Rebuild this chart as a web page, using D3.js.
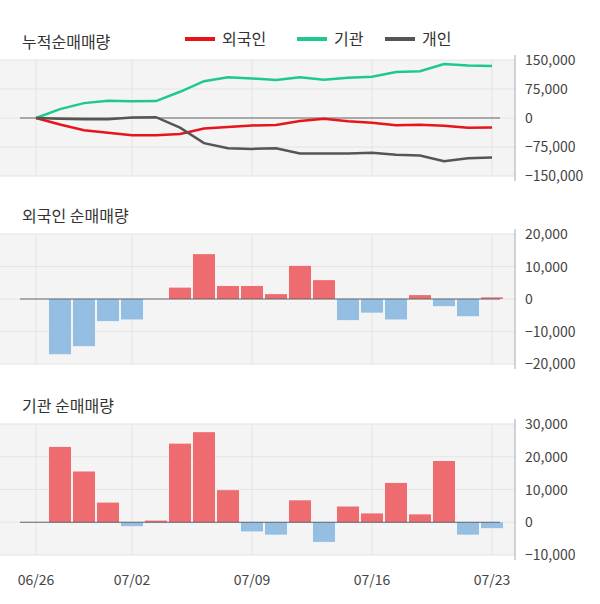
<!DOCTYPE html>
<html><head><meta charset="utf-8">
<script src="https://cdn.jsdelivr.net/npm/d3@7"></script>
<style>body{margin:0;background:#fff;font-family:"Noto Sans CJK KR","Noto Sans",sans-serif}</style>
</head><body><svg id="c" width="600" height="604"></svg>
<script>
const dates = ['06/26','06/27','06/28','06/29','07/02','07/03','07/04','07/05','07/06','07/09','07/10','07/11','07/12','07/13','07/16','07/17','07/18','07/19','07/20','07/23'];
const tickDates = ['06/26','07/02','07/09','07/16','07/23'];
// daily net buying (index 0 has no bar)
const foreign = [0,-17000,-14500,-6800,-6300,0,3500,13800,4000,4000,1500,10200,5800,-6500,-4200,-6300,1200,-2200,-5300,500];
const inst = [0,23000,15500,6000,-1200,500,24000,27500,9800,-2800,-3800,6700,-6000,4800,2700,12000,2400,18700,-3800,-1800];
const indiv = [0,-2000,-3000,-3000,1000,2000,-25000,-65000,-78000,-80000,-78000,-92000,-92000,-92000,-90000,-95000,-97000,-112000,-104000,-102000];
const foreignCum = Array.from(d3.cumsum(foreign));
const instCum = Array.from(d3.cumsum(inst));

const svg = d3.select('#c');
const x = d3.scalePoint().domain(dates).range([36, 492]);
const left = 0, right = 515, bw = 22;

function panel(top, bottom, domain, ticks, title) {
  const y = d3.scaleLinear().domain(domain).range([bottom, top]);
  svg.append('rect').attr('x', left).attr('y', top).attr('width', right - left).attr('height', bottom - top).attr('fill', '#f4f4f4');
  svg.append('g').selectAll('line').data(tickDates).join('line')
    .attr('x1', d => x(d)).attr('x2', d => x(d)).attr('y1', top).attr('y2', bottom).attr('stroke', '#e4e4e4');
  svg.append('g').selectAll('line').data(ticks).join('line')
    .attr('x1', left).attr('x2', right).attr('y1', d => y(d)).attr('y2', d => y(d)).attr('stroke', '#e4e4e4');
  svg.append('line').attr('x1', right).attr('x2', right).attr('y1', top - 5).attr('y2', bottom + 5).attr('stroke', '#aaa');
  svg.append('g').selectAll('text').data(ticks).join('text')
    .attr('x', 525).attr('y', d => y(d) + 5).attr('font-size', 14).attr('fill', '#444')
    .text(d => d3.format(',')(d));
  svg.append('text').attr('x', 22).attr('y', top - 12).attr('font-size', 16).attr('fill', '#333').text(title);
  return y;
}

// panel 1
const y1 = panel(60, 176, [-150000, 150000], [150000, 75000, 0, -75000, -150000], '누적순매매량');
const line = d3.line().x((d, i) => x(dates[i])).y(d => y1(d));
svg.append('line').attr('x1', 20).attr('x2', 500).attr('y1', y1(0)).attr('y2', y1(0)).attr('stroke', '#666');
[[foreignCum, '#e8141c'], [instCum, '#1ec98b'], [indiv, '#555']].forEach(([d, c]) =>
  svg.append('path').datum(d).attr('d', line).attr('fill', 'none').attr('stroke', c).attr('stroke-width', 2.5));
const legend = [['외국인', '#e8141c', 185], ['기관', '#1ec98b', 297], ['개인', '#555', 385]];
legend.forEach(([t, c, lx]) => {
  svg.append('line').attr('x1', lx).attr('x2', lx + 30).attr('y1', 39).attr('y2', 39).attr('stroke', c).attr('stroke-width', 4);
  svg.append('text').attr('x', lx + 37).attr('y', 45).attr('font-size', 16).attr('fill', '#333').text(t);
});

function bars(y, data) {
  svg.append('g').selectAll('rect').data(data.map((v, i) => [dates[i], v]).filter(d => d[1] !== 0)).join('rect')
    .attr('x', d => x(d[0]) - bw / 2).attr('width', bw)
    .attr('y', d => Math.min(y(d[1]), y(0))).attr('height', d => Math.abs(y(d[1]) - y(0)))
    .attr('fill', d => d[1] > 0 ? '#ee6b70' : '#94bfe3');
  svg.append('line').attr('x1', 20).attr('x2', 500).attr('y1', y(0)).attr('y2', y(0)).attr('stroke', '#666');
}

const y2 = panel(234, 364, [-20000, 20000], [20000, 10000, 0, -10000, -20000], '외국인 순매매량');
bars(y2, foreign);
const y3 = panel(424, 555, [-10000, 30000], [30000, 20000, 10000, 0, -10000], '기관 순매매량');
bars(y3, inst);

svg.append('g').selectAll('text').data(tickDates).join('text')
  .attr('x', d => x(d)).attr('y', 585).attr('text-anchor', 'middle').attr('font-size', 14).attr('fill', '#444').text(d => d);
</script></body></html>
